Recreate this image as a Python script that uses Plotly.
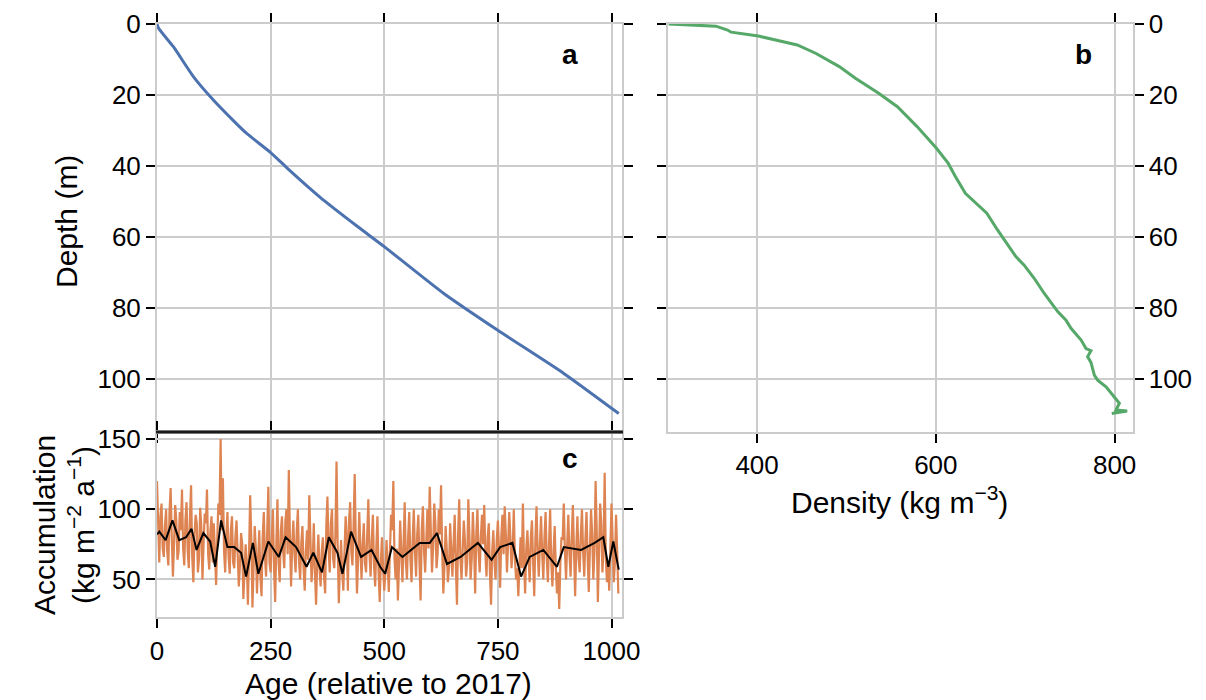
import plotly.graph_objects as go

# ---------------- data ----------------
# panel a: age-depth
age_a = [0, 3.5, 36, 80, 124, 168, 198, 250, 290, 359, 442, 500, 631, 749, 895, 1016]
depth_a = [0, 1.2, 6.4, 14.8, 21.4, 27.2, 30.9, 36.2, 41.0, 48.8, 57.1, 62.7, 75.9, 86.2, 98.4, 109.7]

# panel b: density-depth
density_b = [301, 354, 367, 371, 401.5, 445, 466, 492, 510, 536, 557, 579, 600.7, 613.7, 622, 633,
             657, 669, 689.5, 698.8, 710, 721.3, 736.3, 745.6, 751.2, 762.5, 768, 773.5, 769.8,
             773.5, 777.3, 781, 790.4, 799.7, 805.3, 801.6, 814, 796.8]
depth_b = [0, 0.6, 1.7, 2.3, 3.4, 5.9, 8.3, 12, 15.3, 19.5, 23.3, 28.9, 35, 39.2, 43, 47.7,
           53.3, 58, 65.5, 67.9, 71.6, 75.9, 81, 83.4, 85.7, 89, 91.4, 92, 93.7,
           95.3, 98.9, 100.3, 102.2, 105, 106.8, 108.7, 109, 109.7]

# panel c: accumulation at ages 0, 5, 10, ...
acc_age_main = list(range(0, 1016, 5))
acc_val_main = [
    120, 62, 104, 66, 100, 60, 115, 52, 103, 64,
    98, 114, 60, 105, 58, 117, 48, 96, 55, 101,
    50, 97, 114, 57, 95, 90, 46, 104, 150, 122,
    55, 98, 54, 95, 58, 92, 45, 83, 36, 75,
    32, 110, 30, 88, 40, 85, 38, 98, 52, 116,
    55, 100, 34, 107, 48, 95, 58, 100, 128, 45,
    92, 55, 100, 50, 88, 42, 85, 110, 48, 90,
    32, 82, 45, 80, 40, 109, 55, 100, 58, 134,
    33, 78, 42, 95, 42, 105, 60, 125, 40, 98,
    50, 90, 55, 107, 52, 96, 45, 95, 34, 80,
    42, 78, 41, 96, 120, 50, 35, 92, 48, 105,
    50, 98, 48, 100, 52, 96, 35, 102, 55, 100,
    116, 55, 104, 58, 100, 117, 40, 88, 48, 90,
    52, 96, 32, 107, 50, 92, 52, 107, 50, 98,
    40, 100, 55, 96, 103, 52, 90, 32, 85, 50,
    92, 44, 96, 102, 55, 98, 58, 100, 50, 38,
    80, 104, 40, 85, 48, 92, 38, 102, 52, 95,
    50, 98, 48, 100, 45, 88, 40, 29, 80, 104,
    50, 96, 52, 103, 38, 95, 55, 100, 52, 98,
    41, 100, 50, 120, 34, 104, 55, 126, 48, 42,
    104, 48, 96, 40,
]
# ... and at ages 2.5, 7.5, 12.5, ...
acc_age_mid = [a + 2.5 for a in range(0, 1015, 5)]
acc_val_mid = [
    78, 95, 72, 88, 70, 98, 80, 75, 92, 70,
    85, 72, 92, 70, 95, 66, 82, 90, 65, 88,
    75, 90, 68, 85, 62, 70, 78, 96, 85, 70,
    82, 66, 85, 62, 80, 68, 60, 75, 55, 62,
    68, 80, 58, 72, 64, 52, 80, 66, 85, 62,
    80, 58, 75, 62, 85, 70, 92, 68, 80, 75,
    68, 85, 62, 76, 58, 70, 64, 80, 62, 55,
    62, 58, 70, 52, 88, 72, 90, 65, 82, 75,
    60, 55, 70, 80, 92, 70, 88, 75, 65, 72,
    75, 62, 82, 68, 78, 60, 72, 55, 62, 58,
    55, 60, 70, 85, 65, 72, 60, 70, 75, 62,
    80, 65, 78, 70, 82, 62, 85, 70, 78, 72,
    85, 72, 90, 68, 82, 70, 60, 72, 58, 70,
    75, 60, 82, 65, 70, 78, 62, 80, 65, 75,
    82, 70, 80, 75, 68, 80, 55, 70, 62, 78,
    72, 80, 68, 82, 75, 80, 70, 65, 58, 60,
    58, 62, 72, 65, 80, 62, 78, 70, 75, 68,
    80, 65, 75, 62, 70, 58, 55, 62, 78, 70,
    75, 68, 80, 70, 72, 65, 82, 70, 78, 66,
    72, 82, 70, 85, 68, 90, 72, 65, 60, 72,
    78, 62, 70,
]
smooth_age = [0, 5, 19, 34, 49, 64, 76, 87, 102, 117, 128, 141, 155, 170, 185, 196, 211, 223, 245, 268,
              283, 306, 329, 344, 363, 378, 397, 408, 427, 449, 472, 491, 502, 517, 540, 578, 600, 616,
              638, 668, 706, 736, 755, 782, 801, 820, 850, 880, 895, 933, 963, 982, 993, 1004, 1016]
smooth_val = [82, 84, 78, 92, 78, 80, 86, 71, 83, 77, 59, 92, 73, 73, 69, 52, 76, 54, 77, 66,
              80, 73, 59, 69, 55, 80, 69, 54, 84, 66, 71, 59, 54, 73, 66, 76, 76, 83,
              61, 66, 76, 64, 73, 76, 52, 66, 71, 59, 73, 71, 76, 80, 59, 77, 57]

age_ticks = [0, 250, 500, 750, 1000]
depth_ticks = [0, 20, 40, 60, 80, 100]
density_ticks = [400, 600, 800]
acc_ticks = [50, 100, 150]

# merge the two accumulation readings into one time series
acc_pairs = sorted(zip(acc_age_main + acc_age_mid, acc_val_main + acc_val_mid))
acc_age = [p[0] for p in acc_pairs]
acc_val = [p[1] for p in acc_pairs]

# ---------------- style ----------------
W, H = 1206, 700
FONT = "Liberation Sans, Arial, sans-serif"
GRID = "#cccccc"
BLUE, GREEN, ORANGE = "#4c72b0", "#55a868", "#dd8452"


def px_x(p):
    return p / W


def px_y(p):
    return 1 - p / H


xa = [px_x(157), px_x(621.5)]
xb = [px_x(667.7), px_x(1132.5)]
ytop = [px_y(432), px_y(24)]
ybot = [px_y(617.3), px_y(432)]

fig = go.Figure()
fig.add_trace(go.Scatter(x=age_a, y=depth_a, mode="lines", line=dict(color=BLUE, width=3, shape="spline", smoothing=0.6),
                         xaxis="x", yaxis="y", showlegend=False))
fig.add_trace(go.Scatter(x=density_b, y=depth_b, mode="lines", line=dict(color=GREEN, width=3),
                         xaxis="x2", yaxis="y2", showlegend=False))
fig.add_trace(go.Scatter(x=acc_age, y=acc_val, mode="lines", line=dict(color=ORANGE, width=2.2),
                         xaxis="x3", yaxis="y3", showlegend=False))
fig.add_trace(go.Scatter(x=smooth_age, y=smooth_val, mode="lines", line=dict(color="black", width=2),
                         xaxis="x3", yaxis="y3", showlegend=False))

common = dict(showgrid=True, gridcolor=GRID, gridwidth=1.5, zeroline=False, automargin=False,
              showline=True, linecolor=GRID, linewidth=2, mirror="ticks",
              ticks="outside", ticklen=9, tickwidth=2, tickcolor="black",
              tickfont=dict(family=FONT, size=26, color="black"))

fig.update_layout(
    width=W, height=H, margin=dict(l=0, r=0, t=0, b=0, autoexpand=False),
    paper_bgcolor="white", plot_bgcolor="white",
    xaxis=dict(domain=xa, range=[0, 1022], anchor="y", tickvals=age_ticks,
               showticklabels=False, **common),
    yaxis=dict(domain=ytop, range=[114.9, 0], anchor="x", tickvals=depth_ticks, **common),
    xaxis2=dict(domain=xb, range=[300, 820], anchor="y2", tickvals=density_ticks, **common),
    yaxis2=dict(domain=ytop, range=[114.9, 0], anchor="x2", side="right", tickvals=depth_ticks, **common),
    xaxis3=dict(domain=xa, range=[0, 1022], anchor="y3", tickvals=age_ticks, **common),
    yaxis3=dict(domain=ybot, range=[23, 155], anchor="x3", tickvals=acc_ticks, **common),
)

# thick black separator between panels a and c
fig.add_shape(type="line", xref="paper", yref="paper", x0=px_x(156), x1=px_x(623),
              y0=px_y(432), y1=px_y(432), line=dict(color="#1a1a1a", width=3), layer="above")

title_font = dict(family=FONT, size=30, color="black")
annos = [
    dict(text="Depth (m)", x=px_x(66), y=px_y(222), textangle=-90),
    dict(text="Accumulation<br>(kg m<sup>−2</sup> a<sup>−1</sup>)", x=px_x(64), y=px_y(525), textangle=-90),
    dict(text="Age (relative to 2017)", x=px_x(389), y=px_y(683), textangle=0),
    dict(text="Density (kg m<sup>−3</sup>)", x=px_x(899), y=px_y(500), textangle=0),
]
for a in annos:
    fig.add_annotation(xref="paper", yref="paper", xanchor="center", yanchor="middle",
                       showarrow=False, font=title_font, **a)

for lbl, xx, yy in [("a", 570, 55), ("b", 1083, 55), ("c", 570, 458)]:
    fig.add_annotation(text=f"<b>{lbl}</b>", xref="paper", yref="paper", x=px_x(xx), y=px_y(yy),
                       xanchor="center", yanchor="middle", showarrow=False,
                       font=dict(family=FONT, size=28, color="black"))

fig.write_html("out.html", config={"displayModeBar": False},
               post_script="document.body.style.margin='0px';document.body.style.overflow='hidden';")
